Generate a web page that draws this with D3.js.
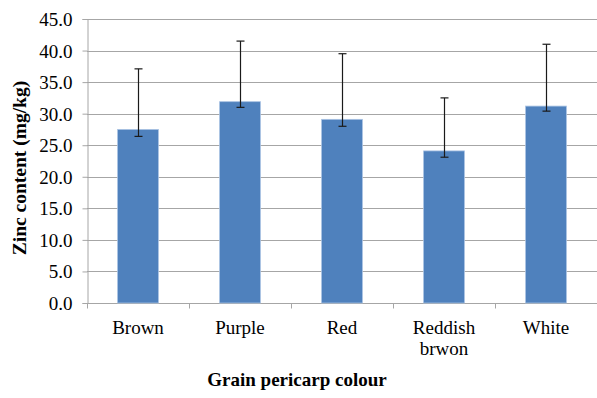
<!DOCTYPE html>
<html>
<head>
<meta charset="utf-8">
<script src="https://cdn.jsdelivr.net/npm/d3@7"></script>
<style>
  html, body { margin: 0; padding: 0; background: #fff; }
  svg { display: block; }
</style>
</head>
<body>
<svg id="chart" width="597" height="398" font-family="Liberation Serif"></svg>
<script>
// Zinc content by grain pericarp colour
const categories = ["Brown", "Purple", "Red", "Reddish brwon", "White"];
const zinc = [27.5, 31.9, 29.1, 24.1, 31.2];
const errPlus = [9.6, 9.6, 10.4, 8.4, 9.8];
const errMinus = [1.1, 0.9, 1.1, 1.0, 0.8];
const yTicks = [0, 5, 10, 15, 20, 25, 30, 35, 40, 45];

const FONT = "Liberation Serif";
const FS = 19;
const svg = d3.select("#chart");
const m = { left: 87, right: 597, top: 19, bottom: 303 };

const x = d3.scaleBand().domain(categories).range([m.left, m.right]).paddingInner(0).paddingOuter(0);
const y = d3.scaleLinear().domain([0, 45]).range([m.bottom, m.top]);

// gridlines
svg.append("g").selectAll("line").data(yTicks.slice(1)).join("line")
  .attr("x1", m.left).attr("x2", m.right)
  .attr("y1", d => Math.round(y(d)) + 0.5).attr("y2", d => Math.round(y(d)) + 0.5)
  .attr("stroke", "#a6a6a6").attr("stroke-width", 1);

// y axis
const yAxis = svg.append("g").attr("transform", `translate(${m.left + 0.5},0)`)
  .call(d3.axisLeft(y).tickValues(yTicks).tickSize(5).tickPadding(10).tickFormat(d3.format(".1f")));
yAxis.attr("font-family", FONT).attr("font-size", FS);
yAxis.select(".domain").attr("stroke", "#a6a6a6");
yAxis.selectAll(".tick line").attr("stroke", "#a6a6a6");
yAxis.selectAll(".tick text").attr("fill", "#000").attr("dy", "0.34em");

// x axis
const xAxis = svg.append("g").attr("transform", `translate(0,${Math.round(m.bottom) + 0.5})`);
xAxis.append("line").attr("x1", m.left).attr("x2", m.right).attr("stroke", "#a6a6a6");
xAxis.selectAll("line.tk").data(categories.concat(["_end"])).join("line").attr("class", "tk")
  .attr("x1", (d, i) => Math.round(m.left + i * x.bandwidth()) + 0.5)
  .attr("x2", (d, i) => Math.round(m.left + i * x.bandwidth()) + 0.5)
  .attr("y1", 0).attr("y2", 5).attr("stroke", "#a6a6a6");

// category labels
const lbl = svg.append("g").selectAll("text").data(categories).join("text")
  .attr("font-family", FONT).attr("fill", "#000")
  .attr("font-size", FS).attr("text-anchor", "middle")
  .attr("x", d => x(d) + x.bandwidth() / 2).attr("y", 334);
lbl.each(function(d) {
  const words = d === "Reddish brwon" ? d.split(" ") : [d];
  const cx = x(d) + x.bandwidth() / 2;
  d3.select(this).selectAll("tspan").data(words).join("tspan")
    .attr("x", cx).attr("dy", (w, i) => i === 0 ? 0 : 21).text(w => w);
});

// bars
const bw = x.bandwidth() / 2.5;
svg.append("g").selectAll("rect").data(zinc).join("rect")
  .attr("x", (d, i) => x(categories[i]) + (x.bandwidth() - bw) / 2)
  .attr("y", d => y(d))
  .attr("width", bw)
  .attr("height", d => y(0) - y(d))
  .attr("fill", "#4f81bd")
  .attr("stroke", "#a9c2e3").attr("stroke-width", 0.8);

// error bars
const eb = svg.append("g").attr("stroke", "#1a1a1a").attr("stroke-width", 1.2);
zinc.forEach((v, i) => {
  const cx = Math.round(x(categories[i]) + x.bandwidth() / 2) + 0.5;
  const hi = y(v + errPlus[i]), lo = y(v - errMinus[i]);
  eb.append("line").attr("x1", cx).attr("x2", cx).attr("y1", hi).attr("y2", lo);
  eb.append("line").attr("x1", cx - 4).attr("x2", cx + 4).attr("y1", hi).attr("y2", hi);
  eb.append("line").attr("x1", cx - 4).attr("x2", cx + 4).attr("y1", lo).attr("y2", lo);
});

// axis titles
svg.append("text").attr("font-family", FONT).attr("fill", "#000")
  .attr("font-size", FS).attr("font-weight", "bold").attr("text-anchor", "middle")
  .attr("x", 297).attr("y", 386)
  .text("Grain pericarp colour");
svg.append("text").attr("font-family", FONT).attr("fill", "#000")
  .attr("font-size", 19.5).attr("font-weight", "bold").attr("text-anchor", "middle")
  .attr("transform", "translate(26,168) rotate(-90)")
  .text("Zinc content (mg/kg)");
</script>
</body>
</html>
